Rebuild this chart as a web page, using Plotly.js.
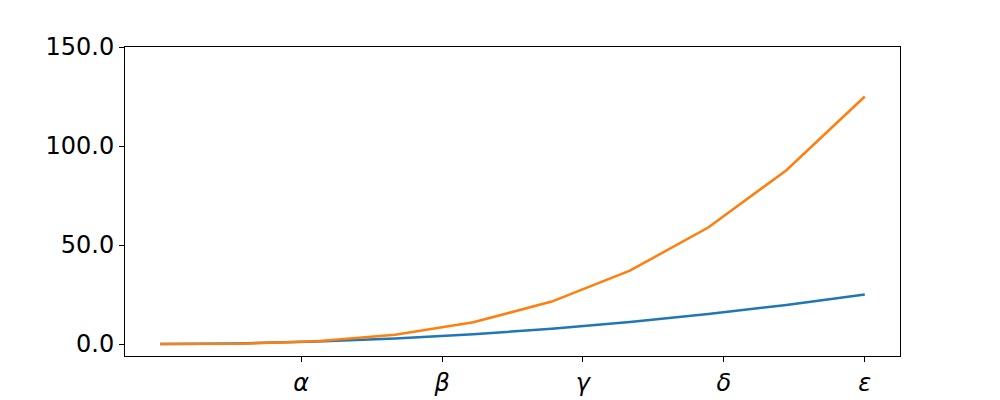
<!DOCTYPE html>
<html>
<head>
<meta charset="utf-8">
<script src="https://cdn.plot.ly/plotly-3.0.1.min.js"></script>
<style>html,body{margin:0;padding:0;background:#fff;}#chart{width:1000px;height:400px;}</style>
</head>
<body>
<div id="chart"></div>
<script>
const xValues = [0, 0.556, 1.111, 1.667, 2.222, 2.778, 3.333, 3.889, 4.444, 5];
const blueValues = [0, 0.309, 1.235, 2.778, 4.938, 7.716, 11.11, 15.12, 19.75, 25];
const orangeValues = [0, 0.171, 1.372, 4.630, 10.97, 21.43, 37.04, 58.82, 87.79, 125];
const xTickVals = [1, 2, 3, 4, 5];
const xTickLabels = ['α', 'β', 'γ', 'δ', 'ε'];
const yTickVals = [0, 50, 100, 150];
const yTickLabels = ['0.0', '50.0', '100.0', '150.0'];

const traces = [
  {x: xValues, y: blueValues, mode: 'lines', line: {color: '#1f77b4', width: 2.5}, showlegend: false},
  {x: xValues, y: orangeValues, mode: 'lines', line: {color: '#ff7f0e', width: 2.5}, showlegend: false}
];
const layout = {
  width: 1000, height: 400,
  margin: {l: 125, r: 100, t: 47, b: 44},
  paper_bgcolor: '#fff', plot_bgcolor: '#fff',
  font: {family: 'DejaVu Sans', size: 24, color: '#000'},
  xaxis: {
    range: [-0.25, 5.25], tickvals: xTickVals,
    ticktext: xTickLabels.map(t => '<i>' + t + '</i>'),
    showgrid: false, zeroline: false, showline: true, mirror: true,
    linecolor: '#000', linewidth: 1, ticks: 'outside', ticklen: 5, tickcolor: '#000',
    tickfont: {family: 'DejaVu Sans', size: 24}
  },
  yaxis: {
    range: [-6.06, 150], tickvals: yTickVals, ticktext: yTickLabels,
    showgrid: false, zeroline: false, showline: true, mirror: true,
    linecolor: '#000', linewidth: 1, ticks: 'outside', ticklen: 5, tickcolor: '#000',
    tickfont: {family: 'DejaVu Sans', size: 24}
  }
};
Plotly.newPlot('chart', traces, layout, {staticPlot: true, displayModeBar: false});
</script>
</body>
</html>
